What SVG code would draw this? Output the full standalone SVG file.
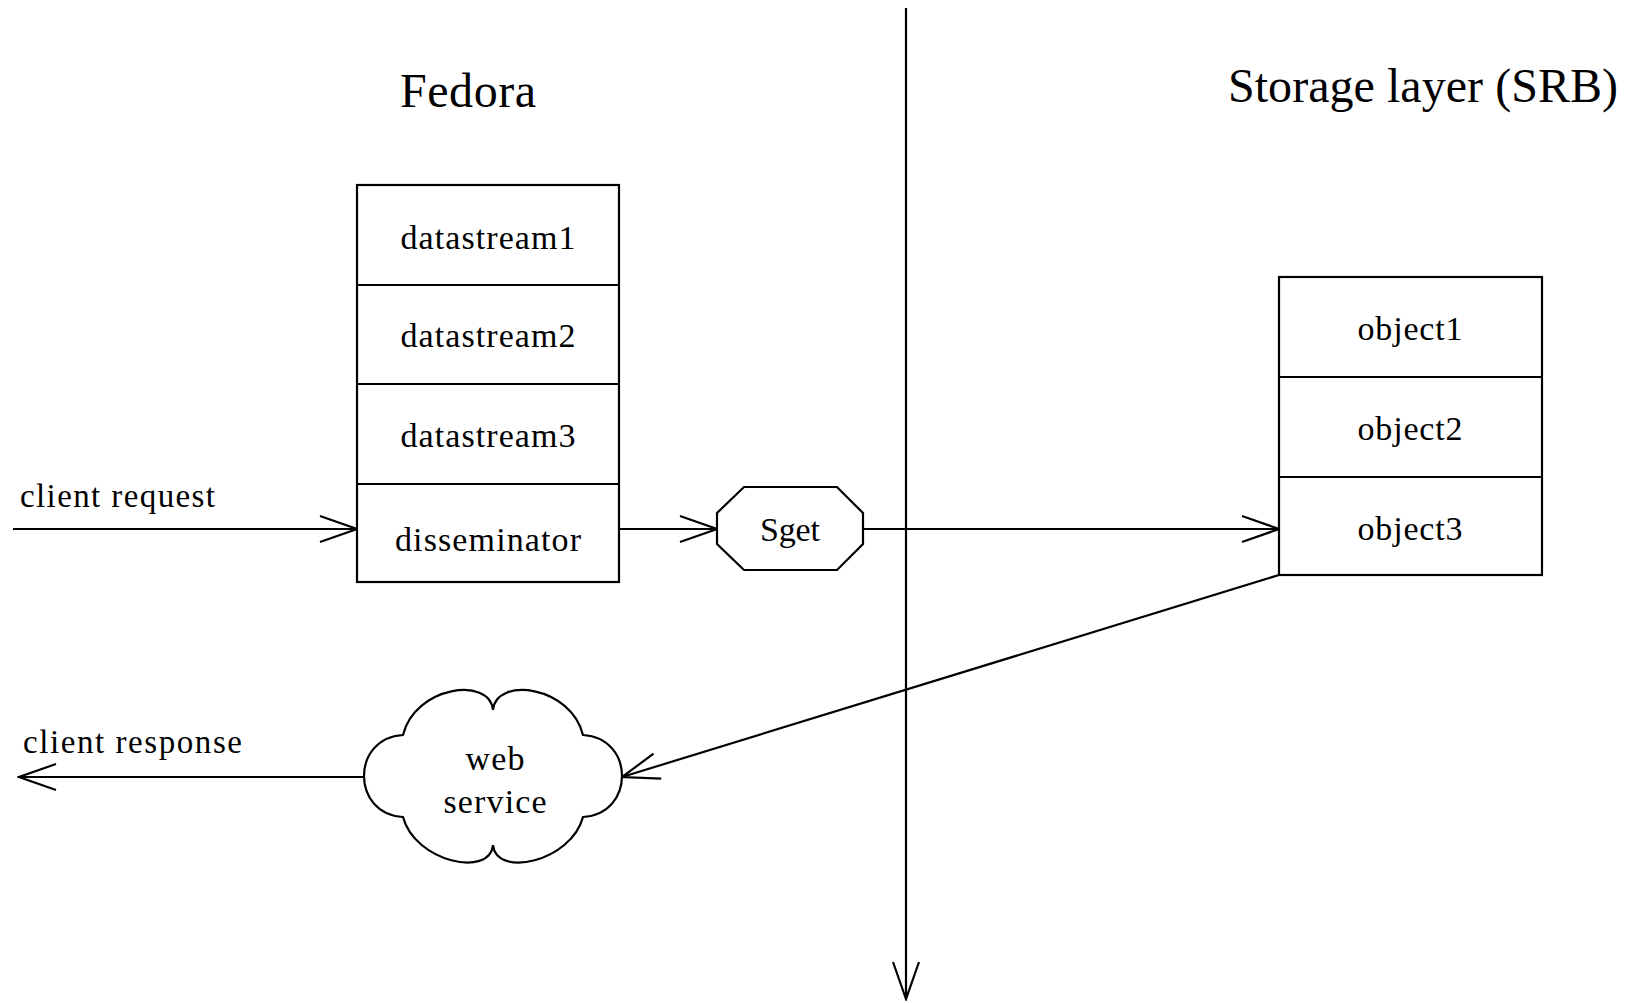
<svg xmlns="http://www.w3.org/2000/svg" width="1642" height="1003" viewBox="0 0 1642 1003">
<style>
  .shape { fill: #fff; stroke: #000; stroke-width: 2.2; }
  .div { stroke: #000; stroke-width: 2.2; }
  .lbl { font-family: "Liberation Serif", "Times New Roman", serif; font-size: 34px; fill: #000; text-anchor: middle; }
  .title { font-family: "Liberation Serif", "Times New Roman", serif; font-size: 48px; fill: #000; }
  .side { font-family: "Liberation Serif", "Times New Roman", serif; font-size: 33px; fill: #000; }
  .conn { fill: none; stroke: #000; stroke-width: 2.2; }
</style>
<defs>
  <marker id="open" viewBox="-40 -16 42 32" markerWidth="42" markerHeight="32" refX="0" refY="0" markerUnits="userSpaceOnUse" orient="auto">
    <path d="M -37,-13 L 0,0 L -37,13" fill="none" stroke="#000" stroke-width="2.2"/>
  </marker>
</defs>
<rect width="1642" height="1003" fill="#fff"/>

<g id="titles">
  <text class="title" x="400" y="107" textLength="136" lengthAdjust="spacing">Fedora</text>
  <text class="title" x="1228" y="102" textLength="390" lengthAdjust="spacing">Storage layer (SRB)</text>
</g>

<g id="connectors">
  <line class="conn" x1="906" y1="8" x2="906" y2="999" marker-end="url(#open)"/>
  <line class="conn" x1="13" y1="529" x2="357" y2="529" marker-end="url(#open)"/>
  <line class="conn" x1="620" y1="529" x2="717" y2="529" marker-end="url(#open)"/>
  <line class="conn" x1="863" y1="529" x2="1279" y2="529" marker-end="url(#open)"/>
  <line class="conn" x1="1279" y1="575" x2="622" y2="777" marker-end="url(#open)"/>
  <line class="conn" x1="366" y1="777" x2="19" y2="777" marker-end="url(#open)"/>
  <text class="side" x="20" y="507" textLength="195" lengthAdjust="spacing">client request</text>
  <text class="side" x="23" y="753" textLength="219" lengthAdjust="spacing">client response</text>
</g>

<g id="fedora-object">
  <rect class="shape" x="357" y="185" width="262" height="397"/>
  <line class="div" x1="357" y1="285" x2="619" y2="285"/>
  <line class="div" x1="357" y1="384" x2="619" y2="384"/>
  <line class="div" x1="357" y1="484" x2="619" y2="484"/>
  <g id="datastream1"><text class="lbl" x="488" y="249" textLength="175" lengthAdjust="spacing">datastream1</text></g>
  <g id="datastream2"><text class="lbl" x="488" y="347" textLength="175" lengthAdjust="spacing">datastream2</text></g>
  <g id="datastream3"><text class="lbl" x="488" y="447" textLength="175" lengthAdjust="spacing">datastream3</text></g>
  <g id="disseminator"><text class="lbl" x="488" y="551" textLength="186" lengthAdjust="spacing">disseminator</text></g>
</g>

<g id="sget">
  <polygon class="shape" points="744,487 837,487 863,513 863,544 837,570 744,570 717,544 717,513"/>
  <text class="lbl" x="790" y="541" textLength="60" lengthAdjust="spacing">Sget</text>
</g>

<g id="srb-objects">
  <rect class="shape" x="1279" y="277" width="263" height="298"/>
  <line class="div" x1="1279" y1="377" x2="1542" y2="377"/>
  <line class="div" x1="1279" y1="477" x2="1542" y2="477"/>
  <g id="object1"><text class="lbl" x="1410" y="340" textLength="105" lengthAdjust="spacing">object1</text></g>
  <g id="object2"><text class="lbl" x="1410" y="440" textLength="105" lengthAdjust="spacing">object2</text></g>
  <g id="object3"><text class="lbl" x="1410" y="540" textLength="105" lengthAdjust="spacing">object3</text></g>
</g>

<g id="web-service">
  <path class="shape" d="M403,735 C415,686 490,676 493,710 C496,676 571,686 583,735 C635,738 635,814 583,817 C571,862 496,878 493,845 C490,878 415,862 403,817 C351,814 351,738 403,735 Z"/>
  <text class="lbl" x="495" y="770" textLength="59" lengthAdjust="spacing">web</text>
  <text class="lbl" x="495" y="813" textLength="103" lengthAdjust="spacing">service</text>
</g>
</svg>
